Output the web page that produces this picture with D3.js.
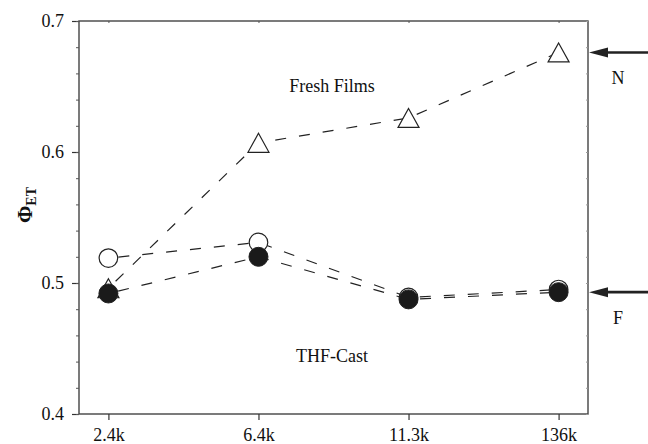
<!DOCTYPE html>
<html><head><meta charset="utf-8">
<script src="https://cdn.jsdelivr.net/npm/d3@7"></script>
<style>body{margin:0;background:#fff}svg{display:block}text{font-family:"Liberation Serif","Times New Roman",serif;fill:#111}</style>
</head><body><svg id="c" width="648" height="444"></svg>
<script>
const categories = ["2.4k","6.4k","11.3k","136k"];
const freshFilms = [0.496, 0.607, 0.626, 0.676];      // open triangles
const thfOpen = [0.519, 0.531, 0.489, 0.495];         // open circles
const thfFilled = [0.492, 0.520, 0.4875, 0.493];      // filled circles
const yTicks = [0.4, 0.5, 0.6, 0.7];
const yMinor = d3.range(0.40, 0.7001, 0.02);

const svg = d3.select("#c");
const L = 79, R = 588, T = 21, B = 414;
const x = d3.scalePoint().domain(categories).range([L, R]).padding(0.196);
const y = d3.scaleLinear().domain([0.4, 0.7]).range([B, T]);
const FF = "Liberation Serif, Times New Roman, serif";

// frame
svg.append("rect").attr("x", L).attr("y", T).attr("width", R - L).attr("height", B - T)
  .attr("fill", "none").attr("stroke", "#444").attr("stroke-width", 1.4);

// y axis
const ya = svg.append("g").attr("transform", `translate(${L},0)`)
  .call(d3.axisLeft(y).tickValues(yTicks).tickFormat(d3.format(".1f")).tickSize(7).tickPadding(8));
ya.attr("font-family", FF).attr("font-size", 18);
ya.select(".domain").remove();
ya.selectAll("text").attr("fill", "#111");
ya.selectAll("line").attr("stroke", "#333").attr("stroke-width", 1.2);
svg.append("g").attr("transform", `translate(${L},0)`)
  .call(d3.axisLeft(y).tickValues(yMinor).tickFormat("").tickSize(3))
  .call(g => g.select(".domain").remove())
  .selectAll("line").attr("stroke", "#555");
svg.append("g").attr("transform", `translate(${R},0)`)
  .call(d3.axisLeft(y).tickValues(yMinor).tickFormat("").tickSize(2))
  .call(g => g.select(".domain").remove())
  .selectAll("line").attr("stroke", "#999");

// x axis
const xa = svg.append("g").attr("transform", `translate(0,${B})`)
  .call(d3.axisBottom(x).tickSize(6).tickPadding(8));
xa.attr("font-family", FF).attr("font-size", 18);
xa.select(".domain").remove();
xa.selectAll("text").attr("fill", "#111");
xa.selectAll("line").attr("stroke", "#333").attr("stroke-width", 1.2);
svg.append("g").attr("transform", `translate(0,${T})`)
  .call(d3.axisBottom(x).tickSize(2).tickFormat(""))
  .call(g => g.select(".domain").remove())
  .selectAll("line").attr("stroke", "#555");

// y label
svg.append("text").attr("transform", "translate(32,205) rotate(-90)").attr("text-anchor", "middle")
  .attr("font-weight", "bold").style("font-size", "21px")
  .html('Φ<tspan dy="4" style="font-size:14px">ET</tspan>');

// lines
const line = d3.line().x((d, i) => x(categories[i])).y(d => y(d));
[freshFilms, thfOpen, thfFilled].forEach(s => {
  svg.append("path").attr("d", line(s)).attr("fill", "none").attr("stroke", "#222")
    .attr("stroke-width", 1.2).attr("stroke-dasharray", "11,13").attr("stroke-dashoffset", -10);
});

// markers
svg.append("g").selectAll("path").data(freshFilms).join("path")
  .attr("d", "M0,-9.5 L10.5,9.5 L-10.5,9.5 Z")
  .attr("transform", (d, i) => `translate(${x(categories[i])},${y(d)})`)
  .attr("fill", "#fff").attr("stroke", "#222").attr("stroke-width", 1.2);
svg.append("g").selectAll("circle").data(thfOpen).join("circle")
  .attr("cx", (d, i) => x(categories[i])).attr("cy", d => y(d)).attr("r", 9.3)
  .attr("fill", "#fff").attr("stroke", "#222").attr("stroke-width", 1.2);
svg.append("g").selectAll("circle").data(thfFilled).join("circle")
  .attr("cx", (d, i) => x(categories[i])).attr("cy", d => y(d)).attr("r", 9.5)
  .attr("fill", "#1a1a1a").attr("stroke", "#222").attr("stroke-width", 1);

// annotations
svg.append("text").attr("x", 332).attr("y", 92).attr("text-anchor", "middle").style("font-size", "18px").text("Fresh Films");
svg.append("text").attr("x", 332).attr("y", 362).attr("text-anchor", "middle").style("font-size", "18px").text("THF-Cast");

// arrows
[[freshFilms[3], "N"], [thfFilled[3], "F"]].forEach(([v, lab]) => {
  const yy = y(v);
  svg.append("line").attr("x1", 648).attr("y1", yy).attr("x2", 604).attr("y2", yy)
    .attr("stroke", "#222").attr("stroke-width", 2.6);
  svg.append("path").attr("d", `M${R + 1},${yy} L${R + 20},${yy - 5} L${R + 20},${yy + 5} Z`).attr("fill", "#222");
  svg.append("text").attr("x", 618).attr("y", yy + 32).attr("text-anchor", "middle").style("font-size", "18px").text(lab);
});
</script></body></html>
